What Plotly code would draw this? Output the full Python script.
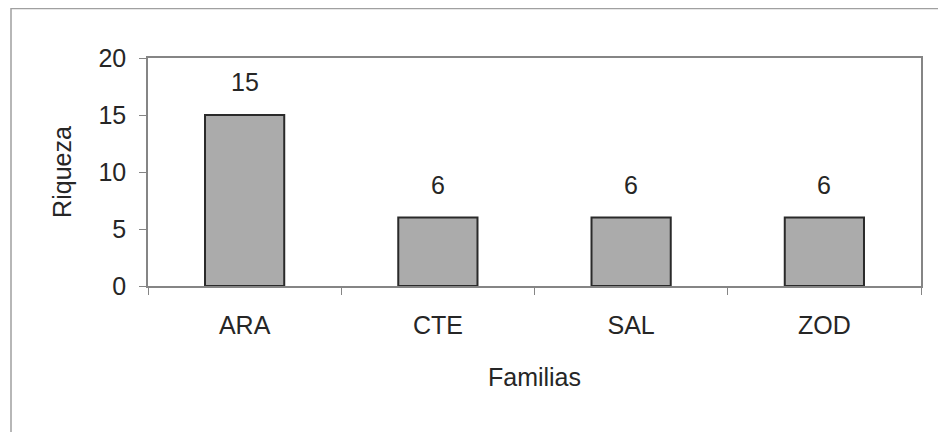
import plotly.graph_objects as go

categories = ["ARA", "CTE", "SAL", "ZOD"]
riqueza = [15, 6, 6, 6]
y_ticks = [0, 5, 10, 15, 20]

FONT = "Liberation Sans, Arial, sans-serif"
TXT = "#262626"

fig = go.Figure()
fig.add_trace(go.Bar(
    x=categories, y=riqueza, width=0.41,
    marker=dict(color="#ababab", line=dict(color="#2a2a2a", width=2)),
    hoverinfo="x+y", showlegend=False,
))

for c, v in zip(categories, riqueza):
    fig.add_annotation(x=c, y=v, text=str(v), showarrow=False,
                       yanchor="middle", yshift=33,
                       font=dict(family=FONT, size=25, color=TXT))

# the page body has an 8px margin, so the figure is 8px smaller and shifted
L, R, T, B = 140, 25, 50, 146
W, H = 938, 424
pw, ph = W - L - R, H - T - B

# outer chart-area border
fig.add_shape(type="rect", xref="paper", yref="paper",
              x0=(3 - L) / pw, x1=(936.5 - L) / pw,
              y0=(H - B - 445) / ph, y1=1 + (T - 0.5) / ph,
              line=dict(color="#a0a0a0", width=1.5), layer="below")

fig.update_layout(
    width=W, height=H,
    margin=dict(l=L, r=R, t=T, b=B, autoexpand=False),
    paper_bgcolor="white", plot_bgcolor="white",
    font=dict(family=FONT, size=25, color=TXT),
    bargap=0.59,
    xaxis=dict(
        type="category", range=[-0.5, 3.5],
        showline=True, mirror=True, linecolor="#858585", linewidth=1.5,
        ticks="outside", tickson="boundaries", ticklen=7, tickcolor="#858585",
        tickwidth=1, ticklabelstandoff=16,
        showgrid=False, zeroline=False,
        tickfont=dict(family=FONT, size=25, color=TXT),
        title=dict(text="Familias", standoff=31,
                   font=dict(family=FONT, size=25, color=TXT)),
    ),
    yaxis=dict(
        range=[0, 20], tickvals=y_ticks,
        showline=True, mirror=True, linecolor="#858585", linewidth=1.5,
        ticks="outside", ticklen=7, tickcolor="#858585", tickwidth=1,
        ticklabelstandoff=8,
        showgrid=False, zeroline=False,
        tickfont=dict(family=FONT, size=25, color=TXT),
        title=dict(text="Riqueza", standoff=20,
                   font=dict(family=FONT, size=25, color=TXT)),
    ),
)

fig.write_html("out.html")
